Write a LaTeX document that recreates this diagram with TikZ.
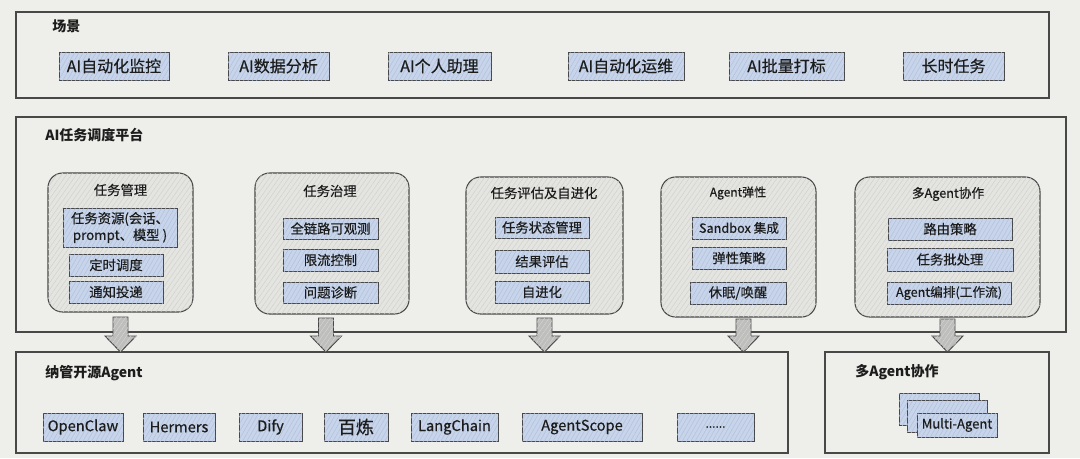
\documentclass[tikz,border=0pt]{standalone}
\usepackage{fontspec}
\setmainfont{Noto Sans CJK SC}[UprightFeatures={FakeBold=0.35}]
\usetikzlibrary{calc,patterns.meta}
\definecolor{bg}{RGB}{238,238,235}
\definecolor{edge}{RGB}{72,72,72}
\definecolor{itemfill}{RGB}{199,212,233}
\definecolor{itemhatch}{RGB}{176,192,222}
\definecolor{grpfill}{RGB}{228,228,225}
\definecolor{grphatch}{RGB}{208,208,205}
\definecolor{arrfill}{RGB}{190,190,188}
\definecolor{arrhatch}{RGB}{212,212,210}
\definecolor{ink}{RGB}{28,28,28}
\newcommand\bx[7]{\node[#1, minimum width={(#5-#3)*0.75pt}, minimum height={(#6-#4)*0.75pt}] (#2) at ({(#3+#5)/2},{(#4+#6)/2}) {#7};}
\newcommand\blkarrow[2]{\draw[blk] ($(#1)+(-7.5,0)$) -- ($(#2)+(-7.5,-16)$) -- ($(#2)+(-15.5,-16)$) -- (#2) -- ($(#2)+(15.5,-16)$) -- ($(#2)+(7.5,-16)$) -- ($(#1)+(7.5,0)$) -- cycle;}
\tikzset{
  outer/.style={draw=edge, line width=0.9pt, inner sep=0pt, outer sep=0pt},
  title/.style={anchor=west, inner sep=0pt, text=ink, font=\bfseries\fontsize{10.5}{12}\selectfont},
  grp/.style={draw=edge, line width=0.8pt, rounded corners=11pt, fill=grpfill, inner sep=0pt, outer sep=0pt,
    postaction={pattern={Lines[angle=55,distance=3pt,line width=0.35pt]}, pattern color=grphatch}},
  gtitle/.style={inner sep=0pt, text=ink, font=\fontsize{10}{12}\selectfont},
  item/.style={draw=edge, line width=0.7pt, fill=itemfill, inner sep=0pt, outer sep=0pt, text=ink, align=center,
    font=\fontsize{10}{12.5}\selectfont,
    postaction={pattern={Lines[angle=60,distance=2.8pt,line width=0.35pt]}, pattern color=itemhatch}},
  sitem/.style={item, font=\fontsize{12}{14}\selectfont},
  bitem/.style={item, font=\fontsize{11}{13}\selectfont},
  blk/.style={draw=edge, line width=0.7pt, fill=arrfill,
    postaction={pattern={Lines[angle=55,distance=2.8pt,line width=0.35pt]}, pattern color=arrhatch}}
}
\begin{document}
\begin{tikzpicture}[x=0.75pt, y=-0.75pt]
\useasboundingbox (0,0) rectangle (1080,458);
\fill[bg] (0,0) rectangle (1080,458);

% Scenes
\bx{outer}{scene}{16}{12}{1049}{98}{}
\node[title] (scenet) at (52,26.5) {场景};
\bx{sitem}{s1}{59}{52}{169}{80}{AI自动化监控}
\bx{sitem}{s2}{228}{52}{329}{80}{AI数据分析}
\bx{sitem}{s3}{388}{52}{491}{80}{AI个人助理}
\bx{sitem}{s4}{568}{52}{684}{80}{AI自动化运维}
\bx{sitem}{s5}{729}{52}{844}{80}{AI批量打标}
\bx{sitem}{s6}{903}{52}{1004}{80}{长时任务}

% Platform
\bx{outer}{plat}{16}{117}{1066}{332}{}
\node[title] (platt) at (45,135) {AI任务调度平台};

\bx{grp}{g1}{48}{173}{193}{312}{}
\node[gtitle] (g1t) at (120.5,190) {任务管理};
\bx{item}{a1}{63}{208}{177}{247}{任务资源(会话、\\prompt、模型 )}
\bx{item}{a2}{69}{254}{163}{276}{定时调度}
\bx{item}{a3}{69}{281}{163}{303}{通知投递}

\bx{grp}{g2}{255}{173}{409}{314}{}
\node[gtitle] (g2t) at (330,191) {任务治理};
\bx{item}{b1}{283}{218}{378}{239}{全链路可观测}
\bx{item}{b2}{283}{249}{378}{271}{限流控制}
\bx{item}{b3}{283}{282}{378}{303}{问题诊断}

\bx{grp}{g3}{466}{177}{623}{314}{}
\node[gtitle] (g3t) at (544,193) {任务评估及自进化};
\bx{item}{c1}{495}{217}{589}{238}{任务状态管理}
\bx{item}{c2}{495}{250}{589}{273}{结果评估}
\bx{item}{c3}{495}{281}{589}{303}{自进化}

\bx{grp}{g4}{661}{177}{816}{317}{}
\node[gtitle, font=\fontsize{9}{11}\selectfont] (g4t) at (738,193) {Agent弹性};
\bx{item, font=\fontsize{9.5}{11}\selectfont}{d1}{692}{217}{786}{239}{Sandbox 集成}
\bx{item}{d2}{692}{247}{786}{269}{弹性策略}
\bx{item}{d3}{690}{282}{786}{304}{休眠/唤醒}

\bx{grp}{g5}{855}{177}{1040}{317}{}
\node[gtitle, font=\fontsize{9.5}{11}\selectfont] (g5t) at (948,194) {多Agent协作};
\bx{item}{e1}{888}{218}{1012}{240}{路由策略}
\bx{item}{e2}{887}{248}{1013}{271}{任务批处理}
\bx{item, font=\fontsize{9.5}{11}\selectfont}{e3}{887}{282}{1011}{304}{Agent编排(工作流)}

% Bottom boxes
\bx{outer}{bot}{16}{352}{788}{453}{}
\node[title] (bott) at (45,373) {纳管开源Agent};
\bx{bitem}{o1}{43}{413}{123}{441}{OpenClaw}
\bx{bitem}{o2}{143}{413}{215}{441}{Hermers}
\bx{bitem}{o3}{239}{413}{302}{441}{Dify}
\bx{bitem, font=\fontsize{13.5}{15}\selectfont}{o4}{324}{413}{388}{441}{百炼}
\bx{bitem}{o5}{411}{413}{498}{441}{LangChain}
\bx{bitem}{o6}{522}{413}{642}{441}{AgentScope}
\bx{bitem, font=\fontsize{9}{11}\selectfont}{o7}{677}{413}{754}{441}{......}

\bx{outer}{multi}{825}{352}{1049}{453}{}
\node[title] (multit) at (855,372) {多Agent协作};
\bx{item}{m1}{899}{393}{979}{425}{}
\bx{item}{m2}{907}{400}{987}{432}{}
\bx{item, font=\fontsize{9.8}{11}\selectfont}{m3}{917}{413}{997}{437}{Multi-Agent}

% Block arrows
\path ($(g1.south)+(0,5)$) coordinate (p1) (p1 |- bot.north) coordinate (q1);
\path ($(g2.south)+(-6,4)$) coordinate (p2) (p2 |- bot.north) coordinate (q2);
\path ($(g3.south)+(0,4)$) coordinate (p3) (p3 |- bot.north) coordinate (q3);
\path ($(g4.south)+(5,2)$) coordinate (p4) (p4 |- bot.north) coordinate (q4);
\path ($(g5.south)+(0,2)$) coordinate (p5) (p5 |- multi.north) coordinate (q5);
\blkarrow{p1}{q1}
\blkarrow{p2}{q2}
\blkarrow{p3}{q3}
\blkarrow{p4}{q4}
\blkarrow{p5}{q5}
\end{tikzpicture}
\end{document}
